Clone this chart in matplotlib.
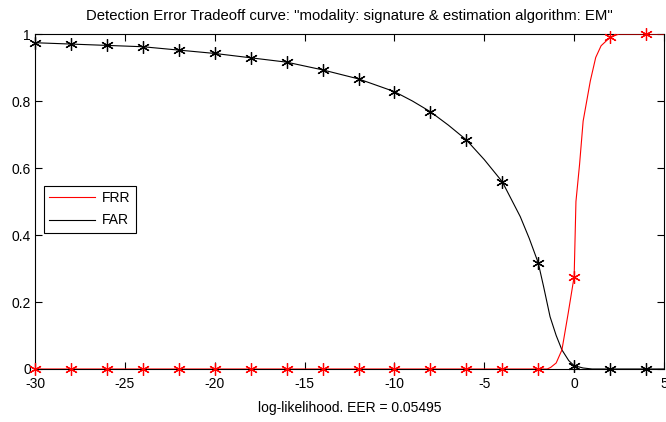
import matplotlib
matplotlib.use('Agg')
import matplotlib.pyplot as plt
import numpy as np

# FAR curve (black)
far_x = [-30, -28, -26, -24, -22, -20, -18, -16, -14, -12, -10, -9, -8, -7, -6, -5,
         -4, -3, -2.5, -2, -1.7, -1.34, -1, -0.68, -0.3, 0, 0.5, 1, 2, 4, 5]
far_y = [0.974, 0.970, 0.966, 0.962, 0.952, 0.942, 0.929, 0.916, 0.893, 0.866, 0.828,
         0.800, 0.768, 0.728, 0.684, 0.625, 0.559, 0.455, 0.39, 0.317, 0.246, 0.156,
         0.100, 0.057, 0.025, 0.010, 0.003, 0.0, 0.0, 0.0, 0.0]

# FRR curve (red)
frr_x = [-30, -28, -26, -24, -22, -20, -18, -16, -14, -12, -10, -8, -6, -4, -2,
         -1.5, -1.3, -1, -0.68, -0.33, 0, 0.1, 0.3, 0.5, 0.9, 1.2, 1.5, 2, 2.5, 4, 5]
frr_y = [0, 0, 0, 0, 0, 0, 0, 0, 0, 0, 0, 0, 0, 0, 0,
         0.0, 0.005, 0.018, 0.057, 0.167, 0.276, 0.50, 0.61, 0.74, 0.86, 0.93, 0.965,
         0.99, 1.0, 1.0, 1.0]

mark_x = np.arange(-30, 5, 2)
x_ticks = [-30, -25, -20, -15, -10, -5, 0, 5]
y_ticks = [0, 0.2, 0.4, 0.6, 0.8, 1]

plt.rcParams['font.family'] = ['Liberation Sans', 'DejaVu Sans']
plt.rcParams['font.size'] = 10
plt.rcParams['axes.unicode_minus'] = False

fig = plt.figure(figsize=(6.66, 4.22), dpi=100)
ax = fig.add_axes([0.0526, 0.1256, 0.9444, 0.7938])

far_x = np.array(far_x)
far_y = np.array(far_y)
frr_x = np.array(frr_x)
frr_y = np.array(frr_y)

ax.plot(frr_x, frr_y, color='red', lw=0.8, label='FRR', zorder=3)
ax.plot(far_x, far_y, color='black', lw=0.8, label='FAR', zorder=2)

star = (6, 2, 0)
m = np.isin(frr_x, mark_x)
ax.plot(frr_x[m], frr_y[m], ls='none', marker=star, ms=9, mew=0.9, color='red',
        zorder=3, clip_on=False)
m = np.isin(far_x, mark_x)
ax.plot(far_x[m], far_y[m], ls='none', marker=star, ms=9, mew=0.9, color='black',
        zorder=2, clip_on=False)

ax.set_xlim(-30, 5)
ax.set_ylim(0, 1)
ax.set_xticks(x_ticks)
ax.set_yticks(y_ticks)
ax.set_yticklabels(['0', '0.2', '0.4', '0.6', '0.8', '1'])
ax.tick_params(axis='x', direction='in', length=5, width=0.8, top=True,
               labelsize=10, pad=6)
ax.tick_params(axis='y', direction='in', length=5, width=0.8, right=True,
               labelsize=10, pad=3)
for s in ax.spines.values():
    s.set_linewidth(0.8)

ax.set_title('Detection Error Tradeoff curve: "modality: signature & estimation algorithm: EM"',
             fontsize=10.75, pad=10)
ax.set_xlabel('log-likelihood. EER = 0.05495', fontsize=10, labelpad=7)

leg = ax.legend(loc='lower left', bbox_to_anchor=(0.014, 0.406), fancybox=False,
                edgecolor='black', framealpha=1, handlelength=3.3, handletextpad=0.45,
                labelspacing=0.6, borderpad=0.4, borderaxespad=0, fontsize=10)
leg.get_frame().set_linewidth(0.8)

fig.savefig('out.png', dpi=100)
